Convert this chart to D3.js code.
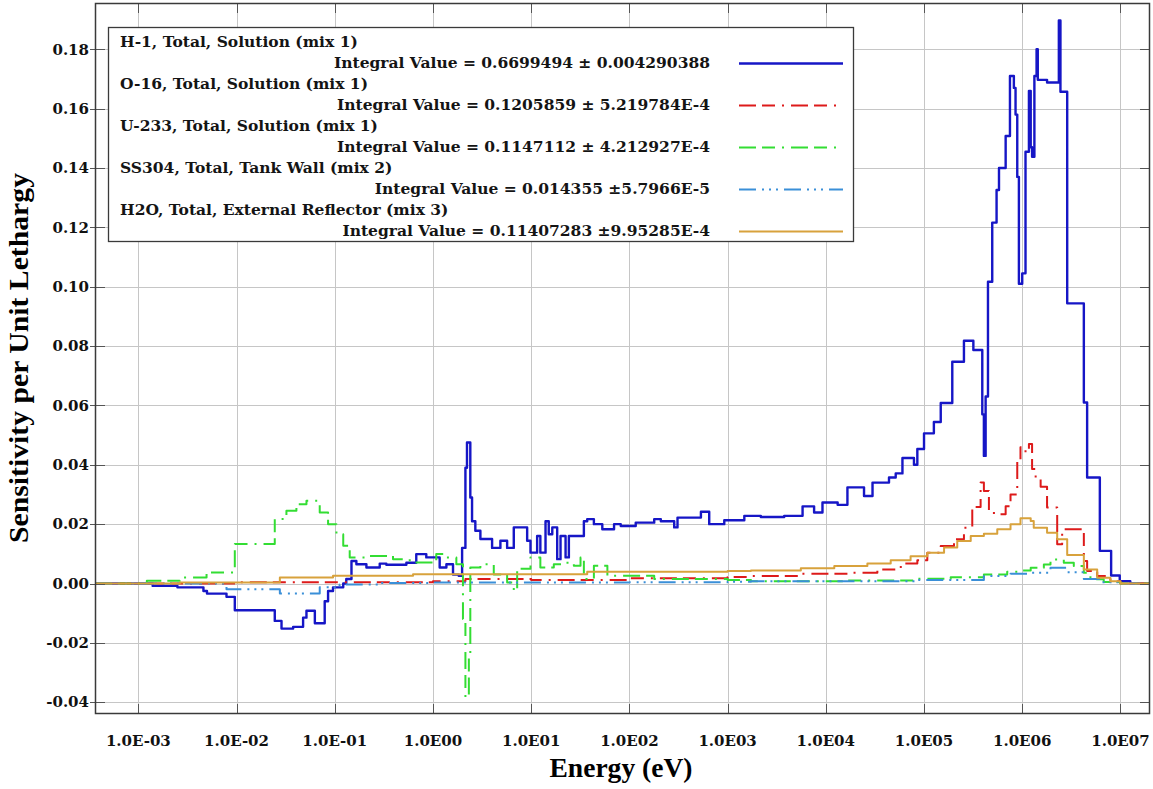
<!DOCTYPE html>
<html>
<head>
<meta charset="utf-8">
<script src="https://cdn.jsdelivr.net/npm/d3@7"></script>
<style>
  body { margin: 0; background: #fff; }
  #display { width: 1153px; height: 789px; }
</style>
</head>
<body>
<div id="display"></div>
<script>
// [energy (eV), sensitivity] — each value holds until the next energy (step after)
const h1 = [
  [3.62e-4, 0], [1.4e-3, -0.0008], [2.5e-3, -0.0013], [4.6e-3, -0.0025], [5.0e-3, -0.0034],
  [7.9e-3, -0.0045], [9.6e-3, -0.009], [0.0245, -0.0126], [0.0287, -0.0152], [0.0377, -0.0146],
  [0.0476, -0.0115], [0.0515, -0.0092], [0.0627, -0.0134], [0.079, -0.006], [0.0855, -0.0025],
  [0.096, -0.0013], [0.122, 0], [0.131, 0.0015], [0.148, 0.0076], [0.166, 0.0065],
  [0.21, 0.0054], [0.287, 0.0067], [0.335, 0.0063], [0.536, 0.007], [0.676, 0.0099],
  [0.855, 0.0088], [1.17, 0.0054], [1.37, 0.0065], [1.6, 0.003], [1.83, 0.0026],
  [1.98, 0.012], [2.14, 0.039], [2.22, 0.0475], [2.4, 0.029], [2.5, 0.021],
  [2.7, 0.0178], [3.04, 0.015], [4.0, 0.012], [4.86, 0.0144], [5.69, 0.012],
  [6.65, 0.0189], [9.1, 0.0144], [9.84, 0.0104], [11.5, 0.016], [12.4, 0.0104],
  [14, 0.021], [15.1, 0.0166], [16.4, 0.0189], [18.4, 0.0082], [19.9, 0.016],
  [22.4, 0.0088], [24.2, 0.016], [34.4, 0.021], [37.2, 0.0217], [43.5, 0.02],
  [53, 0.0183], [69.8, 0.02], [81.7, 0.0194], [116, 0.0205], [179, 0.0217],
  [209, 0.021], [286, 0.0189], [309, 0.0222], [535, 0.0242], [650, 0.02],
  [925, 0.0213], [1480, 0.0228], [2180, 0.0224], [3770, 0.0228], [5800, 0.026],
  [7600, 0.0239], [9250, 0.0273], [1.32e4, 0.0265], [1.66e4, 0.0324], [2.45e4, 0.0295],
  [2.99e4, 0.034], [4.4e4, 0.0357], [5.15e4, 0.0371], [6.03e4, 0.0423], [7.9e4, 0.04],
  [8.55e4, 0.0453], [1.0e5, 0.0506], [1.26e5, 0.0544], [1.48e5, 0.0608], [1.94e5, 0.0747],
  [2.55e5, 0.0818], [3.18e5, 0.0787], [3.92e5, 0.057], [4.07e5, 0.043], [4.24e5, 0.063],
  [4.48e5, 0.1017], [4.95e5, 0.1216], [5.48e5, 0.1326], [5.8e5, 0.14], [6.78e5, 0.1508],
  [7.5e5, 0.171], [8.22e5, 0.167], [8.55e5, 0.158], [8.9e5, 0.137], [9.25e5, 0.101],
  [1.0e6, 0.1045], [1.08e6, 0.1455], [1.17e6, 0.166], [1.22e6, 0.147], [1.26e6, 0.1438],
  [1.33e6, 0.171], [1.4e6, 0.18], [1.44e6, 0.1697], [1.79e6, 0.1688], [2.36e6, 0.1897],
  [2.45e6, 0.1657], [2.87e6, 0.0944], [4.24e6, 0.061], [4.58e6, 0.0357], [6.17e6, 0.011],
  [8.04e6, 0.0027], [9.84e6, 0.0008], [1.26e7, 0], [2.0e7, 0]
]

const o16 = [
  [3.62e-4, 0], [1.0e-2, 0.0004], [1.0, 0.0008], [2.14, 0.0015], [10, 0.0012],
  [100, 0.0018], [1000, 0.0022], [1730, 0.0025], [5570, 0.0033], [1.66e4, 0.0036],
  [3.35e4, 0.0047], [5.8e4, 0.0067], [8.55e4, 0.0078], [1.08e5, 0.0104], [1.48e5, 0.0126],
  [2.02e5, 0.0149], [2.55e5, 0.0188], [3.1e5, 0.0258], [3.77e5, 0.034], [4.07e5, 0.0312],
  [4.58e5, 0.0245], [5.15e5, 0.0233], [6.78e5, 0.026], [7.6e5, 0.030], [8.9e5, 0.0414],
  [9.6e5, 0.0459], [1.08e6, 0.0442], [1.17e6, 0.047], [1.26e6, 0.0386], [1.37e6, 0.0357],
  [1.54e6, 0.0326], [1.79e6, 0.0256], [2.27e6, 0.0132], [2.55e6, 0.0183], [4.24e6, 0.0076],
  [4.58e6, 0.0042], [5.8e6, 0.0025], [7.9e6, 0.0008], [1.0e7, 0], [2.0e7, 0]
]

const u233 = [
  [3.62e-4, 0], [1.22e-3, 0.0009], [2.65e-3, 0.002], [4.95e-3, 0.0037], [9.6e-3, 0.0133],
  [0.0245, 0.0217], [0.0322, 0.0245], [0.0407, 0.0267], [0.0515, 0.0279], [0.0703, 0.0239],
  [0.0855, 0.02], [0.104, 0.0166], [0.122, 0.0127], [0.142, 0.0088], [0.227, 0.0093],
  [0.392, 0.0082], [0.58, 0.0071], [1.08, 0.0099], [1.37, 0.0088], [1.73, 0.0065],
  [2.02, -0.012], [2.14, -0.0384], [2.32, -0.025], [2.4, 0.0054], [3.04, 0.0065],
  [4.16, 0.003], [5.69, 0.0003], [6.65, -0.0025], [7.2, 0.005], [9.84, 0.0088],
  [12.4, 0.0054], [17, 0.0065], [21.5, 0.007], [27.2, 0.006], [31.8, 0.0088],
  [34.4, 0.0015], [43.5, 0.006], [59.7, 0.0026], [179, 0.0015], [1000, 0.0012],
  [1730, 0.0008], [1.66e4, 0.001], [8.55e4, 0.0016], [1.87e5, 0.0021], [4.07e5, 0.003],
  [7.03e5, 0.004], [9.6e5, 0.0044], [1.22e6, 0.0053], [1.66e6, 0.0064], [1.94e6, 0.0081],
  [2.65e6, 0.007], [3.35e6, 0.0059], [4.24e6, 0.0036], [4.95e6, 0.0014], [6.76e6, 0.0005],
  [1.0e7, 0], [2.0e7, 0]
]

const ss304 = [
  [3.62e-4, 0], [7.9e-3, -0.0019], [0.0276, -0.0034], [0.0703, -0.0013], [0.112, -0.0003],
  [0.287, 0.0002], [1.0, 0.0003], [100, 0.0004], [1000, 0.0006], [1730, 0.0008],
  [8.55e4, 0.0012], [4.07e5, 0.0025], [7.6e5, 0.0033], [1.22e6, 0.0036], [1.94e6, 0.0053],
  [2.87e6, 0.0038], [4.24e6, 0.0015], [6.17e6, 0.0004], [1.0e7, 0], [2.0e7, 0]
]

const h2o = [
  [3.62e-4, 0], [2.65e-3, 0.0003], [0.0276, 0.002], [0.096, 0.0026], [0.627, 0.0031],
  [37.2, 0.004], [1000, 0.0042], [1730, 0.0044], [5570, 0.0051], [1.22e4, 0.0059],
  [2.65e4, 0.0067], [4.58e4, 0.0078], [7.3e4, 0.0092], [1.08e5, 0.0104], [1.6e5, 0.0121],
  [2.18e5, 0.0143], [2.99e5, 0.016], [4.07e5, 0.0168], [5.57e5, 0.0183], [7.6e5, 0.02],
  [9.6e5, 0.022], [1.22e6, 0.0211], [1.31e6, 0.0188], [1.79e6, 0.0171], [2.27e6, 0.0149],
  [2.87e6, 0.0096], [4.24e6, 0.0047], [5.8e6, 0.0019], [7.9e6, 0.0008], [1.0e7, 0],
  [2.0e7, 0]
]

const seriesNames = [
  "H-1, Total, Solution (mix 1)",
  "O-16, Total, Solution (mix 1)",
  "U-233, Total, Solution (mix 1)",
  "SS304, Total, Tank Wall (mix 2)",
  "H2O, Total, External Reflector (mix 3)"
]
const integralLabels = [
  "Integral Value = 0.6699494 \u00b1 0.004290388",
  "Integral Value = 0.1205859 \u00b1 5.219784E-4",
  "Integral Value = 0.1147112 \u00b1 4.212927E-4",
  "Integral Value = 0.014355 \u00b15.7966E-5",
  "Integral Value = 0.11407283 \u00b19.95285E-4"
]

const xTicks = [1e-3, 1e-2, 1e-1, 1e0, 1e1, 1e2, 1e3, 1e4, 1e5, 1e6, 1e7]
const xTickLabels = ["1.0E-03", "1.0E-02", "1.0E-01", "1.0E00", "1.0E01", "1.0E02",
                     "1.0E03", "1.0E04", "1.0E05", "1.0E06", "1.0E07"]
const yTicks = [-0.04, -0.02, 0, 0.02, 0.04, 0.06, 0.08, 0.10, 0.12, 0.14, 0.16, 0.18]
const yTickLabels = ["-0.04", "-0.02", "0.00", "0.02", "0.04", "0.06", "0.08", "0.10",
                     "0.12", "0.14", "0.16", "0.18"]


function chart(parentNode)
{
    let width = 1153
    let height = 789
    let margin = {top: 3, right: 3, bottom: 75, left: 95}
    let x = d3.scaleLog([3.62e-4, 2.0e7], [margin.left, width - margin.right])
    let y = d3.scaleLinear([-0.04397, 0.1956], [height - margin.bottom, margin.top])

    const styles = [
        {color: "#1616c6", width: 2.4, dash: null},
        {color: "#dd1a1a", width: 2, dash: "17,6,13,7,2,7"},
        {color: "#33dd33", width: 2, dash: "17,6,13,7,2,7"},
        {color: "#3a8fd8", width: 2, dash: "17,6,2,5,2,5,2,6"},
        {color: "#d8a23c", width: 2, dash: null}
    ]
    const data = [h1, o16, u233, ss304, h2o]

  const svg = d3.create("svg")
      .attr("width", width)
      .attr("height", height)
      .attr("viewBox", [0, 0, width, height])
      .style("font-family", "'DejaVu Serif', serif");

  const [X0, X1] = x.range()
  const [Y0, Y1] = y.range()

  // grid
  svg.append("g")
      .attr("stroke", "#c6c6c6")
      .attr("stroke-width", 1)
    .call(g => g.selectAll(".vx")
      .data(xTicks)
      .join("line")
        .attr("x1", d => Math.round(x(d)) + 0.5).attr("x2", d => Math.round(x(d)) + 0.5)
        .attr("y1", Y1).attr("y2", Y0))
    .call(g => g.selectAll(".hy")
      .data(yTicks)
      .join("line")
        .attr("x1", X0).attr("x2", X1)
        .attr("y1", d => Math.round(y(d)) + 0.5).attr("y2", d => Math.round(y(d)) + 0.5));

  svg.append("clipPath")
      .attr("id", "plot-clip")
    .append("rect")
      .attr("x", X0).attr("y", Y1)
      .attr("width", X1 - X0).attr("height", Y0 - Y1);

  const line = d3.line()
      .x(d => x(d[0]))
      .y(d => y(d[1]))
      .curve(d3.curveStepAfter);

  svg.append("g")
      .attr("clip-path", "url(#plot-clip)")
    .selectAll("path")
    .data(data)
    .join("path")
      .attr("fill", "none")
      .attr("stroke", (d, i) => styles[i].color)
      .attr("stroke-width", (d, i) => styles[i].width)
      .attr("stroke-dasharray", (d, i) => styles[i].dash)
      .attr("stroke-linejoin", "round")
      .attr("d", line);

  // ticks on the frame
  const tick = svg.append("g").attr("stroke", "#555").attr("stroke-width", 1)
  xTicks.forEach(d => {
    let px = Math.round(x(d)) + 0.5
    tick.append("line").attr("x1", px).attr("x2", px).attr("y1", Y0).attr("y2", Y0 - 10)
    tick.append("line").attr("x1", px).attr("x2", px).attr("y1", Y1).attr("y2", Y1 + 10)
  })
  yTicks.forEach(d => {
    let py = Math.round(y(d)) + 0.5
    tick.append("line").attr("x1", X0 - 5).attr("x2", X0 + 10).attr("y1", py).attr("y2", py)
    tick.append("line").attr("x1", X1).attr("x2", X1 - 10).attr("y1", py).attr("y2", py)
  })

  svg.append("rect")
      .attr("x", X0 + 0.5).attr("y", Y1 + 0.5)
      .attr("width", X1 - X0 - 1).attr("height", Y0 - Y1 - 1)
      .attr("fill", "none")
      .attr("stroke", "#3a3a3a")
      .attr("stroke-width", 1.5);

  // tick labels
  svg.append("g")
      .attr("font-size", 15)
      .attr("font-weight", "bold")
      .attr("fill", "#111")
      .attr("text-anchor", "middle")
    .selectAll("text")
    .data(xTicks)
    .join("text")
      .attr("x", d => x(d))
      .attr("y", 746)
      .text((d, i) => xTickLabels[i]);

  svg.append("g")
      .attr("font-size", 15)
      .attr("font-weight", "bold")
      .attr("fill", "#111")
      .attr("text-anchor", "end")
    .selectAll("text")
    .data(yTicks)
    .join("text")
      .attr("x", 89)
      .attr("y", d => y(d))
      .attr("dy", "0.35em")
      .text((d, i) => yTickLabels[i]);

  // axis titles
  svg.append("text")
      .attr("x", 621)
      .attr("y", 777)
      .attr("text-anchor", "middle")
      .attr("font-family", "'Liberation Serif', serif")
      .attr("font-weight", "bold")
      .attr("font-size", 27)
      .attr("textLength", 143)
      .attr("lengthAdjust", "spacingAndGlyphs")
      .text("Energy (eV)");

  svg.append("text")
      .attr("transform", "translate(28,358) rotate(-90)")
      .attr("text-anchor", "middle")
      .attr("font-family", "'Liberation Serif', serif")
      .attr("font-weight", "bold")
      .attr("font-size", 27)
      .attr("textLength", 370)
      .attr("lengthAdjust", "spacingAndGlyphs")
      .text("Sensitivity per Unit Lethargy");

  // legend
  const legend = svg.append("g")
      .attr("font-family", "'DejaVu Serif', serif")
      .attr("font-weight", "bold")
      .attr("font-size", 15.5)
      .attr("fill", "#141414")
  legend.append("rect")
      .attr("x", 108.5).attr("y", 27.5)
      .attr("width", 745).attr("height", 214)
      .attr("fill", "#fff")
      .attr("stroke", "#3a3a3a")
      .attr("stroke-width", 1.3);

  seriesNames.forEach((name, i) => {
    let base = 47 + i * 42
    legend.append("text")
        .attr("x", 120).attr("y", base)
        .text(name)
    legend.append("text")
        .attr("x", 710).attr("y", base + 21)
        .attr("text-anchor", "end")
        .text(integralLabels[i])
    legend.append("line")
        .attr("x1", 739).attr("x2", 843)
        .attr("y1", base + 16.5).attr("y2", base + 16.5)
        .attr("stroke", styles[i].color)
        .attr("stroke-width", styles[i].width)
        .attr("stroke-dasharray", styles[i].dash)
  })

  parentNode.appendChild(svg.node())
}

document.addEventListener("DOMContentLoaded", () => {
    chart(document.getElementById("display"));
})
</script>
</body>
</html>
